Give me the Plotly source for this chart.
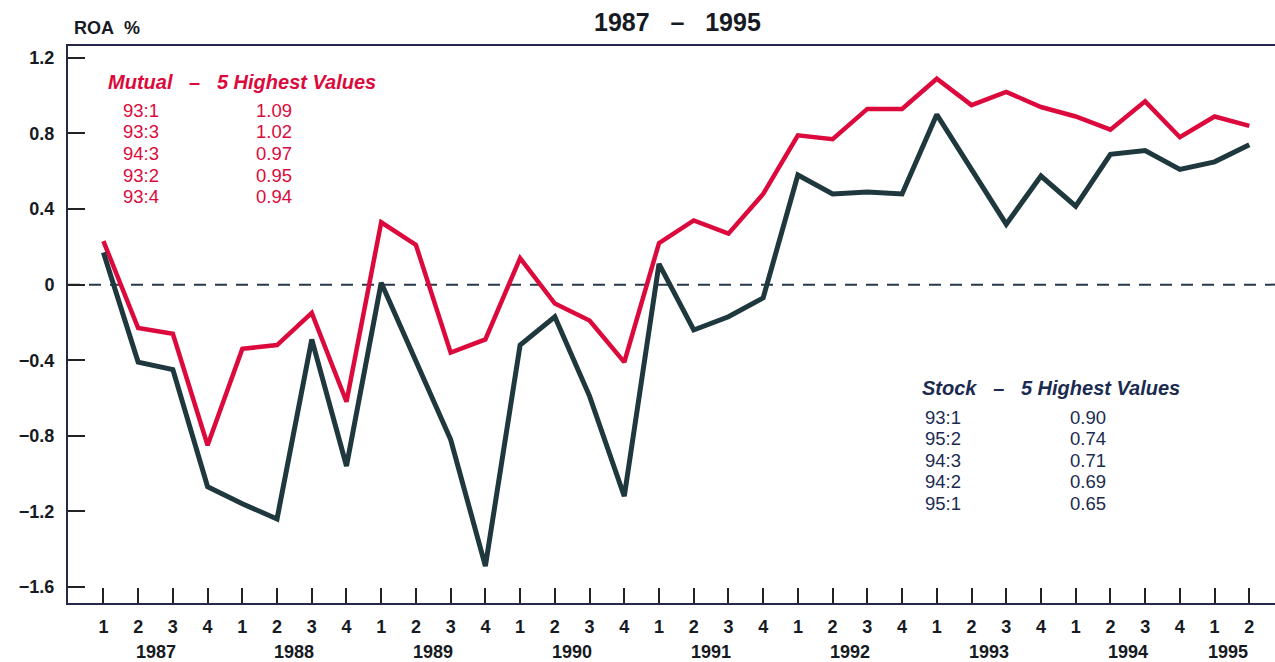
import plotly.graph_objects as go

# Quarterly return on assets (%), 1987:1 - 1995:2
quarters = ["1", "2", "3", "4"] * 8 + ["1", "2"]
years = ["1987", "1988", "1989", "1990", "1991", "1992", "1993", "1994", "1995"]

mutual = [0.23, -0.23, -0.26, -0.85, -0.34, -0.32, -0.15, -0.62,
          0.33, 0.21, -0.36, -0.29, 0.14, -0.10, -0.19, -0.41,
          0.22, 0.34, 0.27, 0.48, 0.79, 0.77, 0.93, 0.93,
          1.09, 0.95, 1.02, 0.94, 0.89, 0.82, 0.97, 0.78,
          0.89, 0.84]
stock = [0.17, -0.41, -0.45, -1.07, -1.16, -1.24, -0.29, -0.96,
         0.01, -0.41, -0.82, -1.49, -0.32, -0.17, -0.59, -1.12,
         0.11, -0.24, -0.17, -0.07, 0.58, 0.48, 0.49, 0.48,
         0.90, 0.61, 0.32, 0.575, 0.415, 0.69, 0.71, 0.61,
         0.65, 0.74]

mutual_top = [("93:1", "1.09"), ("93:3", "1.02"), ("94:3", "0.97"),
              ("93:2", "0.95"), ("93:4", "0.94")]
stock_top = [("93:1", "0.90"), ("95:2", "0.74"), ("94:3", "0.71"),
             ("94:2", "0.69"), ("95:1", "0.65")]

y_ticks = [1.2, 0.8, 0.4, 0, -0.4, -0.8, -1.2, -1.6]
y_tick_text = ["1.2", "0.8", "0.4", "0", "\u22120.4", "\u22120.8", "\u22121.2", "\u22121.6"]

RED = "#dc0a3c"
DARK = "#1e383e"
NAVY = "#1b2b50"
INK = "#161a22"
AXIS = "#26284a"
FONT = "Liberation Sans, Arial, sans-serif"

W, H = 1275, 662
L, R, T, B = 68, 0, 46, 59
pw, ph = W - L - R, H - T - B


def px(x, y):
    """Pixel position on the page -> paper coordinates."""
    return (x - L) / pw, (H - B - y) / ph


xs = list(range(len(mutual)))

fig = go.Figure()
fig.add_trace(go.Scatter(x=xs, y=mutual, mode="lines",
                         line=dict(color=RED, width=4.5), hoverinfo="skip"))
fig.add_trace(go.Scatter(x=xs, y=stock, mode="lines",
                         line=dict(color=DARK, width=5), hoverinfo="skip"))

# dashed zero reference
fig.add_shape(type="line", xref="paper", yref="y", x0=0, x1=1, y0=0, y1=0,
              line=dict(color="#27384a", width=2, dash="12px,9px"), layer="below")

annotations = []


def note(x, y, text, color, size, anchor="center"):
    ax, ay = px(x, y)
    annotations.append(dict(x=ax, y=ay, xref="paper", yref="paper", text=text,
                            showarrow=False, font=dict(family=FONT, size=size, color=color),
                            xanchor=anchor, yanchor="middle"))


# year labels under the quarter numbers
for i, yr in enumerate(years):
    xc = 4 * i + 1.5 if yr != "1995" else 32.4
    annotations.append(dict(x=xc, y=0, xref="x", yref="paper", yshift=-49,
                            text=f"<b>{yr}</b>", showarrow=False,
                            font=dict(family=FONT, size=18, color=INK),
                            xanchor="center", yanchor="middle"))

# mutual block
note(106, 82, "<b><i>Mutual\u00a0\u00a0\u00a0–\u00a0\u00a0\u00a05\u00a0Highest\u00a0Values</i></b>", RED, 20, "left")
for k, (q, v) in enumerate(mutual_top):
    yy = 110 + k * 21.7
    note(141, yy, q, RED, 18.5)
    note(274, yy, v, RED, 18.5)

# stock block
note(920, 388, "<b><i>Stock\u00a0\u00a0\u00a0–\u00a0\u00a0\u00a05\u00a0Highest\u00a0Values</i></b>", NAVY, 20, "left")
for k, (q, v) in enumerate(stock_top):
    yy = 417 + k * 21.5
    note(943, yy, q, NAVY, 18.5)
    note(1088, yy, v, NAVY, 18.5)

# axis caption and title
note(72, 28, "<b>ROA\u00a0\u00a0%</b>", INK, 18, "left")
note(677, 22, "<b>1987\u00a0\u00a0\u00a0–\u00a0\u00a0\u00a01995</b>", INK, 25)

fig.update_layout(
    width=W, height=H,
    margin=dict(l=L, r=R, t=T, b=B),
    paper_bgcolor="white", plot_bgcolor="white",
    showlegend=False,
    annotations=annotations,
    xaxis=dict(range=[-1.02, 33.74], tickmode="array", tickvals=xs,
               ticktext=[f"<b>{q}</b>" for q in quarters],
               ticks="inside", ticklen=15, tickwidth=2, tickcolor="#222",
               showline=True, linecolor=AXIS, linewidth=2, mirror=True,
               showgrid=False, zeroline=False, ticklabelstandoff=6,
               tickfont=dict(family=FONT, size=18, color=INK)),
    yaxis=dict(range=[-1.685, 1.263], tickmode="array", tickvals=y_ticks,
               ticktext=[f"<b>{t}</b>" for t in y_tick_text],
               ticks="inside", ticklen=17, tickwidth=2, tickcolor="#222",
               showline=True, linecolor=AXIS, linewidth=2,
               showgrid=False, zeroline=False, ticklabelstandoff=8,
               tickfont=dict(family=FONT, size=18, color=INK)),
)

fig.write_html("out.html")
